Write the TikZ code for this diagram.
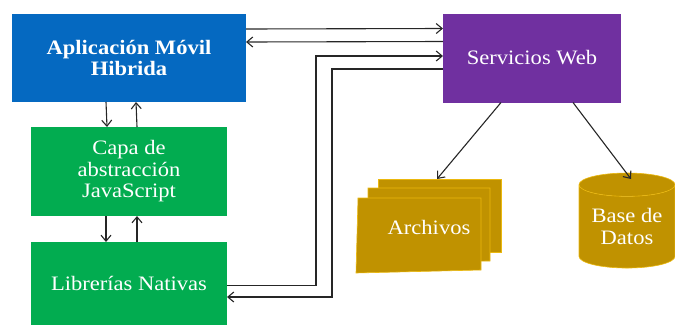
\documentclass[tikz,border=0pt]{standalone}
\usepackage{fontspec}
\setmainfont[FakeStretch=1.1]{Liberation Serif}
\usetikzlibrary{positioning, arrows.meta, shapes.geometric}
\definecolor{appblue}{HTML}{0569C1}
\definecolor{capagreen}{HTML}{02AC50}
\definecolor{webpurple}{HTML}{7030A0}
\definecolor{datagold}{HTML}{C09200}
\definecolor{dataline}{HTML}{EBB80E}
\tikzset{main node/.style={rectangle, text=white, align=center, inner sep=0pt, outer sep=0pt, font=\fontsize{20.5}{21.5}\selectfont},
	sheet/.style={fill=datagold, draw=dataline, line width=0.6pt},
	link/.style={-{Straight Barb[length=6pt,width=10pt]}, line width=1.1pt, black!85},}

\begin{document}
\begin{tikzpicture}[x=1pt, y=-1pt]
				\useasboundingbox (0,0) rectangle (675,325);
				% Capas
				\node[main node, fill=appblue, minimum width=234pt, minimum height=88pt, font=\fontsize{20.5}{21.5}\selectfont\bfseries] (app) at (129,58) {Aplicación Móvil\\Hibrida};
				\node[main node, fill=capagreen, minimum width=196pt, minimum height=89pt] [below = 25pt of app] (capa) {Capa de\\abstracción\\JavaScript};
				\node[main node, fill=capagreen, minimum width=196pt, minimum height=83pt] [below = 26pt of capa] (lib) {Librerías Nativas};
				\node[main node, fill=webpurple, minimum width=178pt, minimum height=89pt] [right = 197pt of app] (web) {Servicios Web};
				% Archivos
				\fill[sheet] (378,179) -- (501,179) -- (501,252) -- (378,252) -- cycle;
				\fill[sheet] (368,188) -- (490,188) -- (490,261) -- (368,262) -- cycle;
				\fill[sheet] (358,198) -- (481,198) -- (481,270) -- (356,273) -- cycle;
				\node[main node] (arch) at (429,227) {Archivos};
				\coordinate (archtop) at (437,179);
				% Base de datos
				\node[main node, shape=cylinder, shape border rotate=90, aspect=0.33, minimum width=96pt, minimum height=95pt, draw=dataline, line width=0.6pt, cylinder uses custom fill, cylinder body fill=datagold, cylinder end fill=datagold] (base) at (627,226.5) {Base de\\Datos};
				\coordinate (basetop) at (631,179);
				% Paths
				\draw[link] ([xshift=-23pt]app.south) -- ([xshift=-22pt]capa.north);
				\draw[link] ([xshift=8pt]capa.north) -- ([xshift=7pt]app.south);
				\draw[link] ([xshift=-23pt]capa.south) -- ([xshift=-23pt]lib.north);
				\draw[link] ([xshift=8pt]lib.north) -- ([xshift=8pt]capa.south);
				\draw[link] ([yshift=29pt]app.east) -- ([yshift=29.5pt]web.west);
				\draw[link] ([yshift=16.5pt]web.west) -- ([yshift=16pt]app.east);
				\draw[link] ([yshift=-2pt]lib.east) -| (316,56) -- (web.west |- 316,56);
				\draw[link] (web.west |- 332,69) -| (332,297) -- (lib.east |- 332,297);
				\draw[link] ([xshift=-31pt]web.south) -- (archtop);
				\draw[link] ([xshift=41pt]web.south) -- (basetop);
			\end{tikzpicture}
\end{document}
